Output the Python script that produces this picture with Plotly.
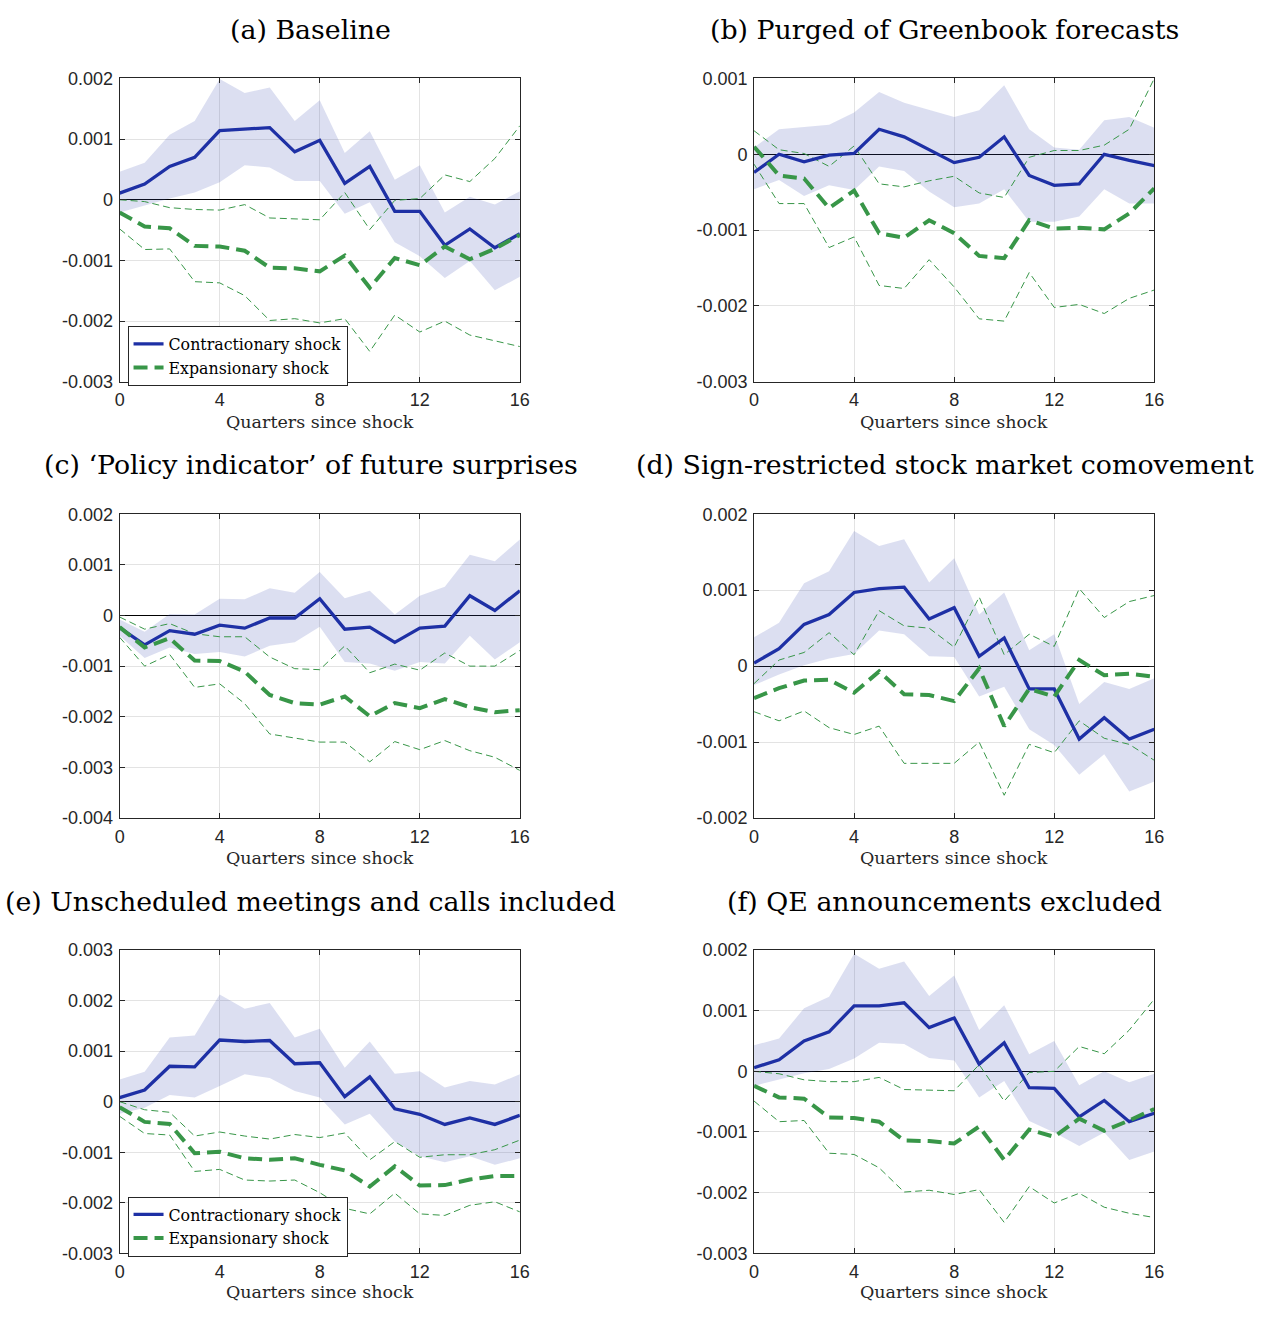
import plotly.graph_objects as go

# ---------------- data ----------------
quarters = list(range(17))

panel_titles = [
    "(a) Baseline",
    "(b) Purged of Greenbook forecasts",
    "(c) \u2018Policy indicator\u2019 of future surprises",
    "(d) Sign-restricted stock market comovement",
    "(e) Unscheduled meetings and calls included",
    "(f) QE announcements excluded",
]
xaxis_label = "Quarters since shock"
legend_names = ["Contractionary shock", "Expansionary shock"]

x_tickvals = [0, 4, 8, 12, 16]
x_ticktext = ["0", "4", "8", "12", "16"]

# (a) Baseline
a_con = [0.00011, 0.00026, 0.00055, 0.00070, 0.00114, 0.00116, 0.00119, 0.00079, 0.00098, 0.00027, 0.00055, -0.00019, -0.00019, -0.00075, -0.00048, -0.00079, -0.00056]
a_con_up = [0.00046, 0.00061, 0.00107, 0.00130, 0.00199, 0.00176, 0.00185, 0.00130, 0.00164, 0.00077, 0.00113, 0.00033, 0.00057, -0.00021, 0.00005, -0.00008, 0.00014]
a_con_lo = [-0.00021, -0.00009, 0.00002, 0.00012, 0.00029, 0.00057, 0.00053, 0.00031, 0.00031, -0.00023, -0.00004, -0.00070, -0.00093, -0.00129, -0.00101, -0.00149, -0.00127]
a_exp = [-0.00021, -0.00044, -0.00047, -0.00076, -0.00077, -0.00084, -0.00112, -0.00113, -0.00118, -0.00092, -0.00145, -0.00096, -0.00108, -0.00077, -0.00098, -0.00081, -0.00058]
a_exp_up = [0.0, -0.00003, -0.00013, -0.00016, -0.00017, -0.00008, -0.00030, -0.00031, -0.00033, 0.00012, -0.00049, -0.00001, 0.00002, 0.00041, 0.00030, 0.00068, 0.00122]
a_exp_lo = [-0.00048, -0.00082, -0.00081, -0.00135, -0.00137, -0.00158, -0.00199, -0.00196, -0.00203, -0.00196, -0.00250, -0.00190, -0.00218, -0.00200, -0.00223, -0.00233, -0.00242]

# (b) Purged of Greenbook forecasts
b_con = [-0.00024, 0.00000, -0.00010, -0.00001, 0.00001, 0.00033, 0.00023, 0.00006, -0.00011, -0.00004, 0.00023, -0.00028, -0.00041, -0.00039, 0.00000, -0.00008, -0.00015]
b_con_up = [0.00009, 0.00033, 0.00036, 0.00039, 0.00055, 0.00082, 0.00068, 0.00058, 0.00049, 0.00058, 0.00091, 0.00033, 0.00009, 0.00006, 0.00045, 0.00049, 0.00035]
b_con_lo = [-0.00046, -0.00034, -0.00055, -0.00041, -0.00047, -0.00016, -0.00022, -0.00049, -0.00070, -0.00065, -0.00046, -0.00089, -0.00089, -0.00082, -0.00046, -0.00065, -0.00065]
b_exp = [0.00010, -0.00028, -0.00032, -0.00071, -0.00048, -0.00104, -0.00110, -0.00087, -0.00104, -0.00134, -0.00137, -0.00087, -0.00098, -0.00097, -0.00099, -0.00078, -0.00045]
b_exp_up = [0.00031, 0.00006, 0.00001, -0.00016, 0.00011, -0.00039, -0.00043, -0.00035, -0.00029, -0.00051, -0.00057, -0.00004, 0.00005, 0.00005, 0.00012, 0.00033, 0.00100]
b_exp_lo = [-0.00013, -0.00065, -0.00065, -0.00123, -0.00109, -0.00173, -0.00177, -0.00139, -0.00175, -0.00217, -0.00220, -0.00156, -0.00202, -0.00198, -0.00210, -0.00190, -0.00179]

# (c) Policy indicator
c_con = [-0.00024, -0.00058, -0.00030, -0.00037, -0.00019, -0.00025, -0.00005, -0.00005, 0.00033, -0.00027, -0.00023, -0.00053, -0.00025, -0.00021, 0.00039, 0.00010, 0.00049]
c_con_up = [-0.00008, -0.00032, 0.00003, 0.00002, 0.00033, 0.00032, 0.00054, 0.00045, 0.00086, 0.00034, 0.00049, 0.00002, 0.00039, 0.00057, 0.00120, 0.00107, 0.00150]
c_con_lo = [-0.00040, -0.00084, -0.00063, -0.00076, -0.00072, -0.00081, -0.00060, -0.00053, -0.00022, -0.00092, -0.00095, -0.00109, -0.00092, -0.00095, -0.00040, -0.00087, -0.00053]
c_exp = [-0.00023, -0.00063, -0.00045, -0.00089, -0.00090, -0.00111, -0.00157, -0.00173, -0.00176, -0.00160, -0.00199, -0.00173, -0.00183, -0.00165, -0.00181, -0.00191, -0.00187]
c_exp_up = [-0.00003, -0.00027, -0.00016, -0.00036, -0.00042, -0.00042, -0.00082, -0.00105, -0.00107, -0.00060, -0.00113, -0.00096, -0.00108, -0.00074, -0.00100, -0.00100, -0.00069]
c_exp_lo = [-0.00043, -0.00100, -0.00077, -0.00142, -0.00135, -0.00174, -0.00234, -0.00242, -0.00250, -0.00250, -0.00289, -0.00249, -0.00265, -0.00247, -0.00267, -0.00280, -0.00306]

# (d) Sign-restricted stock market comovement
d_con = [0.00004, 0.00023, 0.00055, 0.00068, 0.00097, 0.00102, 0.00104, 0.00062, 0.00077, 0.00013, 0.00037, -0.00030, -0.00030, -0.00096, -0.00068, -0.00096, -0.00083]
d_con_up = [0.00038, 0.00057, 0.00109, 0.00125, 0.00178, 0.00158, 0.00167, 0.00110, 0.00142, 0.00068, 0.00097, 0.00021, 0.00042, -0.00050, -0.00021, -0.00030, -0.00016]
d_con_lo = [-0.00025, -0.00011, 0.00001, 0.00010, 0.00016, 0.00047, 0.00042, 0.00013, 0.00012, -0.00040, -0.00027, -0.00083, -0.00104, -0.00143, -0.00116, -0.00165, -0.00152]
d_exp = [-0.00042, -0.00029, -0.00019, -0.00018, -0.00035, -0.00007, -0.00037, -0.00038, -0.00046, -0.00003, -0.00079, -0.00030, -0.00040, 0.00008, -0.00012, -0.00010, -0.00014]
d_exp_up = [-0.00023, 0.00008, 0.00018, 0.00044, 0.00015, 0.00073, 0.00053, 0.00050, 0.00025, 0.00091, 0.00015, 0.00042, 0.00026, 0.00102, 0.00064, 0.00085, 0.00093]
d_exp_lo = [-0.00060, -0.00072, -0.00059, -0.00081, -0.00090, -0.00079, -0.00128, -0.00128, -0.00128, -0.00100, -0.00170, -0.00103, -0.00114, -0.00072, -0.00095, -0.00103, -0.00124]

# (e) Unscheduled meetings and calls included
e_con = [0.00008, 0.00023, 0.00070, 0.00069, 0.00122, 0.00119, 0.00121, 0.00075, 0.00077, 0.00010, 0.00049, -0.00014, -0.00025, -0.00045, -0.00032, -0.00045, -0.00027]
e_con_up = [0.00044, 0.00059, 0.00127, 0.00131, 0.00212, 0.00184, 0.00195, 0.00127, 0.00144, 0.00067, 0.00119, 0.00055, 0.00060, 0.00028, 0.00041, 0.00034, 0.00054]
e_con_lo = [-0.00024, -0.00012, 0.00013, 0.00008, 0.00031, 0.00054, 0.00047, 0.00021, 0.00008, -0.00045, -0.00024, -0.00079, -0.00108, -0.00120, -0.00108, -0.00125, -0.00112]
e_exp = [-0.00011, -0.00040, -0.00044, -0.00102, -0.00099, -0.00112, -0.00115, -0.00112, -0.00125, -0.00136, -0.00168, -0.00128, -0.00166, -0.00165, -0.00154, -0.00147, -0.00147]
e_exp_up = [0.00000, -0.00016, -0.00021, -0.00068, -0.00060, -0.00068, -0.00074, -0.00065, -0.00071, -0.00062, -0.00115, -0.00079, -0.00110, -0.00105, -0.00105, -0.00095, -0.00076]
e_exp_lo = [-0.00029, -0.00063, -0.00066, -0.00138, -0.00134, -0.00155, -0.00157, -0.00155, -0.00180, -0.00211, -0.00222, -0.00181, -0.00222, -0.00225, -0.00205, -0.00198, -0.00218]

# (f) QE announcements excluded
f_con = [0.00006, 0.00019, 0.00050, 0.00065, 0.00108, 0.00108, 0.00113, 0.00072, 0.00088, 0.00012, 0.00047, -0.00027, -0.00028, -0.00075, -0.00048, -0.00083, -0.00069]
f_con_up = [0.00043, 0.00054, 0.00104, 0.00123, 0.00194, 0.00169, 0.00181, 0.00124, 0.00158, 0.00068, 0.00109, 0.00028, 0.00050, -0.00023, 0.00000, -0.00018, -0.00004]
f_con_lo = [-0.00024, -0.00014, -0.00003, 0.00004, 0.00021, 0.00047, 0.00045, 0.00022, 0.00018, -0.00043, -0.00016, -0.00082, -0.00101, -0.00123, -0.00101, -0.00146, -0.00132]
f_exp = [-0.00024, -0.00043, -0.00045, -0.00076, -0.00077, -0.00083, -0.00114, -0.00115, -0.00119, -0.00091, -0.00146, -0.00096, -0.00108, -0.00078, -0.00098, -0.00081, -0.00062]
f_exp_up = [0.00000, -0.00004, -0.00014, -0.00017, -0.00017, -0.00010, -0.00030, -0.00031, -0.00032, 0.00011, -0.00049, -0.00002, 0.00000, 0.00041, 0.00029, 0.00068, 0.00119]
f_exp_lo = [-0.00049, -0.00083, -0.00081, -0.00135, -0.00137, -0.00159, -0.00199, -0.00196, -0.00203, -0.00195, -0.00249, -0.00190, -0.00217, -0.00201, -0.00224, -0.00234, -0.00241]

# y-axis ranges and tick labels per panel
a_yticks = [-0.003, -0.002, -0.001, 0, 0.001, 0.002]
a_ylabels = ["-0.003", "-0.002", "-0.001", "0", "0.001", "0.002"]
b_yticks = [-0.003, -0.002, -0.001, 0, 0.001]
b_ylabels = ["-0.003", "-0.002", "-0.001", "0", "0.001"]
c_yticks = [-0.004, -0.003, -0.002, -0.001, 0, 0.001, 0.002]
c_ylabels = ["-0.004", "-0.003", "-0.002", "-0.001", "0", "0.001", "0.002"]
d_yticks = [-0.002, -0.001, 0, 0.001, 0.002]
d_ylabels = ["-0.002", "-0.001", "0", "0.001", "0.002"]
e_yticks = [-0.003, -0.002, -0.001, 0, 0.001, 0.002, 0.003]
e_ylabels = ["-0.003", "-0.002", "-0.001", "0", "0.001", "0.002", "0.003"]
f_yticks = [-0.003, -0.002, -0.001, 0, 0.001, 0.002]
f_ylabels = ["-0.003", "-0.002", "-0.001", "0", "0.001", "0.002"]

panels = [
    (a_con, a_con_up, a_con_lo, a_exp, a_exp_up, a_exp_lo, a_yticks, a_ylabels),
    (b_con, b_con_up, b_con_lo, b_exp, b_exp_up, b_exp_lo, b_yticks, b_ylabels),
    (c_con, c_con_up, c_con_lo, c_exp, c_exp_up, c_exp_lo, c_yticks, c_ylabels),
    (d_con, d_con_up, d_con_lo, d_exp, d_exp_up, d_exp_lo, d_yticks, d_ylabels),
    (e_con, e_con_up, e_con_lo, e_exp, e_exp_up, e_exp_lo, e_yticks, e_ylabels),
    (f_con, f_con_up, f_con_lo, f_exp, f_exp_up, f_exp_lo, f_yticks, f_ylabels),
]

# ---------------- style / layout ----------------
W, H = 1271, 1317
BLUE = "rgb(30,48,165)"
BAND = "rgba(60,78,178,0.18)"
GREEN = "rgb(56,150,72)"
SERIF = "DejaVu Serif"
SANS = "Liberation Sans, Arial, sans-serif"

col_px = [(116, 521), (758, 1163)]
row_px = [(69.5, 377.5), (512, 820.5), (954.5, 1262.5)]
title_cx = [309.5, 951]
title_cy = [20, 462, 905]
xlab_cy = [418, 861, 1302]

fig = go.Figure()
annotations = []
layout_axes = {}

for i, (con, con_up, con_lo, exp, exp_up, exp_lo, yt, yl) in enumerate(panels):
    r, c = divmod(i, 2)
    n = i + 1
    xa = "x" if n == 1 else f"x{n}"
    ya = "y" if n == 1 else f"y{n}"
    legend_id = "legend" if i == 0 else ("legend2" if i == 4 else None)

    fig.add_trace(go.Scatter(x=quarters, y=con_up, mode="lines", line=dict(width=0, color=BAND),
                             showlegend=False, hoverinfo="skip", xaxis=xa, yaxis=ya))
    fig.add_trace(go.Scatter(x=quarters, y=con_lo, mode="lines", line=dict(width=0, color=BAND),
                             fill="tonexty", fillcolor=BAND,
                             showlegend=False, hoverinfo="skip", xaxis=xa, yaxis=ya))
    fig.add_trace(go.Scatter(x=quarters, y=exp_up, mode="lines",
                             line=dict(width=1, color=GREEN, dash="7px,4px"),
                             showlegend=False, xaxis=xa, yaxis=ya))
    fig.add_trace(go.Scatter(x=quarters, y=exp_lo, mode="lines",
                             line=dict(width=1, color=GREEN, dash="7px,4px"),
                             showlegend=False, xaxis=xa, yaxis=ya))
    fig.add_trace(go.Scatter(x=quarters, y=con, mode="lines", name=legend_names[0],
                             line=dict(width=3.3, color=BLUE),
                             showlegend=legend_id is not None,
                             legend=legend_id if legend_id else "legend",
                             xaxis=xa, yaxis=ya))
    fig.add_trace(go.Scatter(x=quarters, y=exp, mode="lines", name=legend_names[1],
                             line=dict(width=4, color=GREEN, dash="14px,7px"),
                             showlegend=legend_id is not None,
                             legend=legend_id if legend_id else "legend",
                             xaxis=xa, yaxis=ya))

    x0, x1 = col_px[c]
    top, bot = row_px[r]
    axis_common = dict(showline=True, mirror="ticks", linecolor="#262626", linewidth=1,
                       ticks="inside", ticklen=5, tickcolor="#262626",
                       showgrid=True, gridcolor="#e3e3e3", gridwidth=1,
                       tickfont=dict(family=SANS, size=18, color="#262626"))
    layout_axes["xaxis" if n == 1 else f"xaxis{n}"] = dict(
        axis_common, domain=[x0 / W, x1 / W], anchor=ya, range=[0, 16],
        tickvals=x_tickvals, ticktext=x_ticktext, zeroline=False, ticklabelstandoff=2)
    layout_axes["yaxis" if n == 1 else f"yaxis{n}"] = dict(
        axis_common, domain=[1 - bot / H, 1 - top / H], anchor=xa, range=[yt[0], yt[-1]],
        tickvals=yt, ticktext=yl, zeroline=True, zerolinecolor="#000000", zerolinewidth=1,
        ticklabelstandoff=2)

    annotations.append(dict(text=panel_titles[i], x=title_cx[c] / W, y=1 - title_cy[r] / H,
                            xref="paper", yref="paper", xanchor="center", yanchor="middle",
                            showarrow=False, font=dict(family=SERIF, size=26.8, color="#000000")))
    annotations.append(dict(text=xaxis_label, x=((x0 + x1) / 2) / W, y=1 - xlab_cy[r] / H,
                            xref="paper", yref="paper", xanchor="center", yanchor="middle",
                            showarrow=False, font=dict(family=SERIF, size=17.5, color="#262626")))

legend_style = dict(xanchor="left", yanchor="top", bgcolor="white", bordercolor="#262626",
                    borderwidth=1, font=dict(family=SERIF, size=15.8, color="#000000"),
                    tracegroupgap=0, itemwidth=30, traceorder="normal")

fig.update_layout(
    width=W, height=H, margin=dict(l=0, r=0, t=0, b=0),
    paper_bgcolor="white", plot_bgcolor="white",
    showlegend=True,
    legend=dict(legend_style, x=124 / W, y=1 - 321 / H),
    legend2=dict(legend_style, x=124 / W, y=1 - 1205 / H),
    annotations=annotations,
    **layout_axes,
)

fig.write_html("out.html")
